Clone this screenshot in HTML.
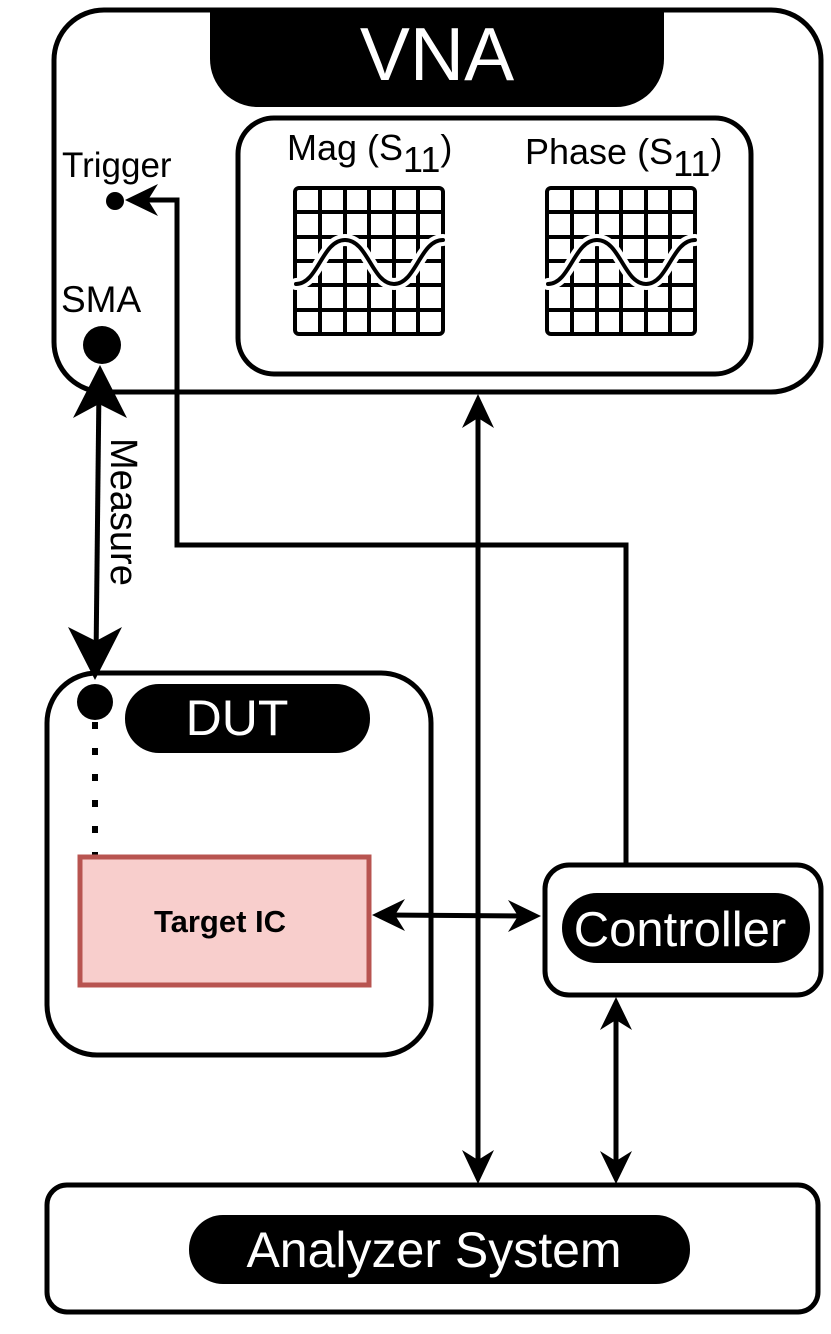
<!DOCTYPE html>
<html><head><style>html,body{margin:0;padding:0;background:#fff}svg{display:block}</style></head>
<body>
<svg width="831" height="1334" viewBox="0 0 831 1334" xmlns="http://www.w3.org/2000/svg" font-family="Liberation Sans, Arial, sans-serif">
<rect x="54" y="10" width="767" height="382" rx="50" fill="#fff" stroke="#000" stroke-width="5"/>
<path d="M210 10 H664 V59 A48 48 0 0 1 616 107 H258 A48 48 0 0 1 210 59 Z" fill="#000"/>
<text x="437" y="80" font-size="75" fill="#fff" text-anchor="middle">VNA</text>
<rect x="238" y="118" width="513" height="256" rx="36" fill="#fff" stroke="#000" stroke-width="5"/>
<text x="287" y="160" font-size="36">Mag (S<tspan dy="12">11</tspan><tspan dy="-12">)</tspan></text>
<text x="525" y="164" font-size="36">Phase (S<tspan dy="12">11</tspan><tspan dy="-12">)</tspan></text>
<g stroke="#000" stroke-width="4" fill="none">
  <rect x="295" y="188" width="148" height="146" rx="4"/>
  <path d="M320 188V334M345 188V334M369 188V334M394 188V334M418 188V334M295 212H443M295 237H443M295 261H443M295 285H443M295 310H443"/>
  <rect x="547" y="188" width="148" height="146" rx="4"/>
  <path d="M572 188V334M597 188V334M621 188V334M646 188V334M670 188V334M547 212H695M547 237H695M547 261H695M547 285H695M547 310H695"/>
</g>
<g fill="none" stroke-linecap="round">
  <path d="M296 284 C318 284 322 240 345 240 C368 240 372 284 394 284 C416 284 420 240 443 240" stroke="#fff" stroke-width="12"/>
  <path d="M296 284 C318 284 322 240 345 240 C368 240 372 284 394 284 C416 284 420 240 443 240" stroke="#000" stroke-width="4"/>
  <path d="M548 284 C570 284 574 240 597 240 C620 240 624 284 646 284 C668 284 672 240 695 240" stroke="#fff" stroke-width="12"/>
  <path d="M548 284 C570 284 574 240 597 240 C620 240 624 284 646 284 C668 284 672 240 695 240" stroke="#000" stroke-width="4"/>
</g>
<text x="62" y="177" font-size="35">Trigger</text>
<circle cx="115" cy="201" r="9" fill="#000"/>
<text x="61" y="312" font-size="37">SMA</text>
<circle cx="102" cy="345" r="19" fill="#000"/>
<rect x="47" y="673" width="384" height="382" rx="50" fill="#fff" stroke="#000" stroke-width="5"/>
<rect x="125" y="684" width="245" height="69" rx="34" fill="#000"/>
<text x="237" y="735" font-size="50" fill="#fff" text-anchor="middle">DUT</text>
<circle cx="95" cy="702" r="18" fill="#000"/>
<line x1="95" y1="722" x2="95" y2="857" stroke="#000" stroke-width="6" stroke-dasharray="7 19"/>
<rect x="80" y="857" width="289" height="128" fill="#f8cecc" stroke="#b85450" stroke-width="5"/>
<text x="220" y="932" font-size="31" font-weight="bold" text-anchor="middle">Target IC</text>
<rect x="545" y="865" width="276" height="130" rx="24" fill="#fff" stroke="#000" stroke-width="5"/>
<rect x="562" y="893" width="248" height="70" rx="35" fill="#000"/>
<text x="680" y="946" font-size="49" fill="#fff" text-anchor="middle">Controller</text>
<rect x="47" y="1185" width="771" height="127" rx="20" fill="#fff" stroke="#000" stroke-width="5"/>
<rect x="189" y="1215" width="501" height="69" rx="34" fill="#000"/>
<text x="434" y="1267" font-size="50" fill="#fff" text-anchor="middle">Analyzer System</text>
<g stroke="#000" stroke-width="5" fill="none">
  <path d="M626 864 V545 H177 V200 H140"/>
  <line x1="99" y1="385" x2="96" y2="660"/>
  <line x1="478" y1="400" x2="478" y2="1170"/>
  <line x1="385" y1="915" x2="528" y2="916"/>
  <line x1="616" y1="1010" x2="616" y2="1172"/>
</g>
<g fill="#000">
  <polygon points="125,200 158,184 148,200 158,216"/>
  <polygon points="100,365 127,418 99,404 73,418"/>
  <polygon points="95,680 122,627 96,641 68,627"/>
  <polygon points="478,394 494,428 478,418 462,428"/>
  <polygon points="478,1184 494,1150 478,1160 462,1150"/>
  <polygon points="372,915 405,899 395,915 405,931"/>
  <polygon points="541,916 508,900 518,916 508,932"/>
  <polygon points="616,997 632,1030 616,1020 600,1030"/>
  <polygon points="616,1184 632,1151 616,1161 600,1151"/>
</g>
<text transform="translate(111,438) rotate(90)" font-size="38">Measure</text>
</svg>
</body></html>
